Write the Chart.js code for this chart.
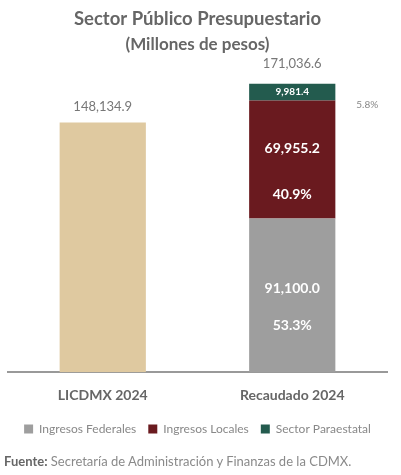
<!DOCTYPE html>
<html>
<head>
<meta charset="utf-8">
<script src="https://cdn.jsdelivr.net/npm/chart.js@4"></script>
<style>
  body { margin: 0; background: #fff; }
  #wrap { position: relative; width: 401px; height: 475px; }
  #fuente { position: absolute; left: 4px; top: 453px; font-family: Lato, sans-serif; font-size: 13px; color: #8a8a8a; }
  #fuente b { color: #666; }
</style>
</head>
<body>
<div id="wrap">
  <canvas id="chart" width="401" height="475"></canvas>
  <div id="fuente"><b>Fuente:</b> Secretaría de Administración y Finanzas de la CDMX.</div>
</div>
<script>
const categories = ['LICDMX 2024', 'Recaudado 2024'];
const aprobado = [148134.9, null];
const federales = [null, 91100.0];
const locales = [null, 69955.2];
const paraestatal = [null, 9981.4];

const fmt = v => v.toLocaleString('en-US', { minimumFractionDigits: 1, maximumFractionDigits: 1 });
const recaudado = federales[1] + locales[1] + paraestatal[1];
const totals = [aprobado[0], recaudado];

// Draws totals, segment values and shares
const labelsPlugin = {
    id: 'barLabels',
    afterDatasetsDraw(chart) {
        const ctx = chart.ctx;
        ctx.save();
        ctx.textAlign = 'center';
        ctx.textBaseline = 'middle';

        // totals above each column
        ctx.fillStyle = '#777';
        ctx.font = '13px Lato';
        const beige = chart.getDatasetMeta(0).data[0];
        ctx.fillText(fmt(totals[0]), beige.x, beige.y - 16);
        const top = chart.getDatasetMeta(3).data[1];
        ctx.fillText(fmt(totals[1]), top.x, top.y - 20);

        // inside segments
        [1, 2].forEach(i => {
            const bar = chart.getDatasetMeta(i).data[1];
            const v = chart.data.datasets[i].data[1];
            const mid = (bar.y + bar.base) / 2;
            ctx.fillStyle = '#fff';
            ctx.font = 'bold 14px Lato';
            ctx.fillText(fmt(v), bar.x, mid - (i === 1 ? 7 : 11));
            ctx.fillText((v / recaudado * 100).toFixed(1) + '%', bar.x, mid + (i === 1 ? 30 : 35));
        });

        const g = chart.getDatasetMeta(3).data[1];
        ctx.fillStyle = '#fff';
        ctx.font = 'bold 10px Lato';
        ctx.fillText(fmt(paraestatal[1]), g.x, (g.y + g.base) / 2);
        ctx.fillStyle = '#888';
        ctx.font = '10px Lato';
        ctx.fillText((paraestatal[1] / recaudado * 100).toFixed(1) + '%', g.x + 75, g.base + 4);
        ctx.restore();
    }
};

new Chart(document.getElementById('chart'), {
    type: 'bar',
    data: {
        labels: categories,
        datasets: [
            { label: 'LICDMX', data: aprobado, backgroundColor: '#dfc9a0' },
            { label: 'Ingresos Federales', data: federales, backgroundColor: '#9e9e9e' },
            { label: 'Ingresos Locales', data: locales, backgroundColor: '#6a1a1f' },
            { label: 'Sector Paraestatal', data: paraestatal, backgroundColor: '#235b4e' }
        ]
    },
    options: {
        responsive: false,
        animation: false,
        barPercentage: 1,
        categoryPercentage: 0.455,
        layout: { padding: { left: 8, right: 14, top: 2, bottom: 30 } },
        scales: {
            x: {
                stacked: true,
                grid: { display: false },
                border: { display: true, color: '#999', width: 2 },
                ticks: { color: '#666', font: { family: 'Lato', size: 14, weight: 'bold' }, padding: 7 }
            },
            y: {
                stacked: true,
                display: false,
                min: 0,
                max: 182400
            }
        },
        plugins: {
            title: {
                display: true,
                text: 'Sector Público Presupuestario',
                color: '#666',
                font: { family: 'Lato', size: 18.5, weight: 'bold' },
                padding: { top: 6, bottom: 4 }
            },
            subtitle: {
                display: true,
                text: '(Millones de pesos)',
                color: '#666',
                font: { family: 'Lato', size: 17, weight: 'bold' },
                padding: { bottom: 10 }
            },
            legend: {
                position: 'bottom',
                labels: {
                    filter: item => item.datasetIndex > 0,
                    boxWidth: 9,
                    boxHeight: 9,
                    padding: 12,
                    color: '#888',
                    font: { family: 'Lato', size: 12 }
                }
            },
            tooltip: { enabled: false }
        }
    },
    plugins: [labelsPlugin]
});
</script>
</body>
</html>
